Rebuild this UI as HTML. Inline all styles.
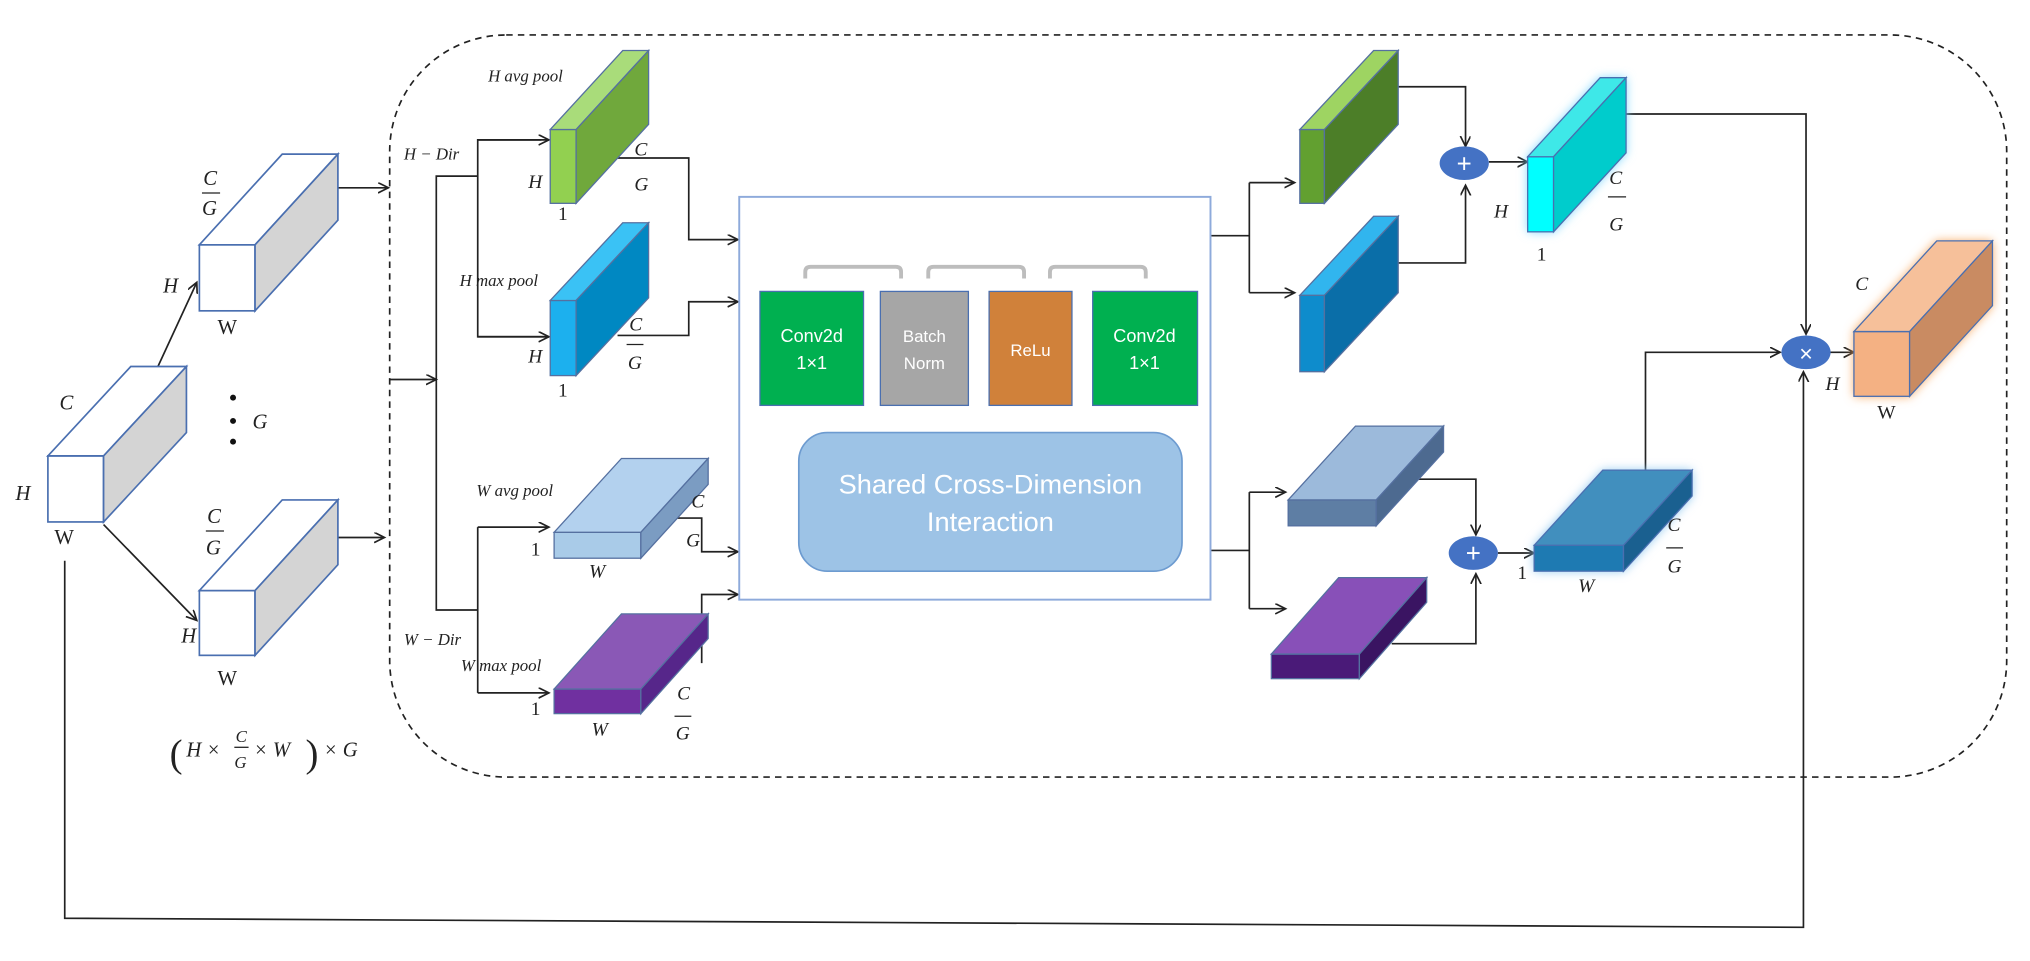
<!DOCTYPE html>
<html><head><meta charset="utf-8"><style>
html,body{margin:0;padding:0;background:#fff;}
svg{display:block;}
text{font-family:"Liberation Serif",serif;font-style:italic;fill:#222;}
.s{font-family:"Liberation Sans",sans-serif;font-style:normal;fill:#fff;}
.n{font-style:normal;}
</style></head><body>
<svg width="2030" height="961" viewBox="0 0 1568 742" preserveAspectRatio="none" xmlns="http://www.w3.org/2000/svg">
<defs>
<marker id="a" markerWidth="10" markerHeight="10" refX="8" refY="4" orient="auto" markerUnits="userSpaceOnUse"><path d="M0,0 L8,4 L0,8" fill="none" stroke="#222" stroke-width="1.3"/></marker>
<filter id="g" x="-30%" y="-30%" width="160%" height="160%"><feGaussianBlur stdDeviation="4"/></filter>
</defs>
<g stroke="#222" stroke-width="1.3" fill="none">
<rect x="301" y="27" width="1249" height="573" rx="90" stroke-dasharray="5,4"/>
<line x1="122" y1="283" x2="152" y2="218" marker-end="url(#a)"/>
<line x1="80" y1="405" x2="152" y2="479" marker-end="url(#a)"/>
<line x1="261" y1="145" x2="300" y2="145" marker-end="url(#a)"/>
<line x1="261" y1="415" x2="297" y2="415" marker-end="url(#a)"/>
<line x1="301" y1="293" x2="337" y2="293" marker-end="url(#a)"/>
<polyline points="369,136 337,136 337,471 369,471"/>
<polyline points="418,108 369,108 369,260 424,260" />
<line x1="369" y1="108" x2="424" y2="108" marker-end="url(#a)"/>
<line x1="369" y1="260" x2="424" y2="260" marker-end="url(#a)"/>
<line x1="369" y1="407" x2="369" y2="535"/>
<line x1="369" y1="407" x2="424" y2="407" marker-end="url(#a)"/>
<line x1="369" y1="535" x2="424" y2="535" marker-end="url(#a)"/>
<polyline points="477,122 532,122 532,185 570,185" marker-end="url(#a)"/>
<polyline points="477,259 532,259 532,233 570,233" marker-end="url(#a)"/>
<polyline points="523,400 542,400 542,426 570,426" marker-end="url(#a)"/>
<polyline points="542,512 542,459 570,459" marker-end="url(#a)"/>
<polyline points="935,182 965,182"/>
<line x1="965" y1="141" x2="965" y2="226"/>
<line x1="965" y1="141" x2="1000" y2="141" marker-end="url(#a)"/>
<line x1="965" y1="226" x2="1000" y2="226" marker-end="url(#a)"/>
<polyline points="1080,67 1132,67 1132,113" marker-end="url(#a)"/>
<polyline points="1080,203 1132,203 1132,143" marker-end="url(#a)"/>
<line x1="1150" y1="125" x2="1180" y2="125" marker-end="url(#a)"/>
<polyline points="935,425 965,425"/>
<line x1="965" y1="380" x2="965" y2="470"/>
<line x1="965" y1="380" x2="993" y2="380" marker-end="url(#a)"/>
<line x1="965" y1="470" x2="993" y2="470" marker-end="url(#a)"/>
<polyline points="1090,370 1140,370 1140,413" marker-end="url(#a)"/>
<polyline points="1075,497 1140,497 1140,443" marker-end="url(#a)"/>
<line x1="1157" y1="427" x2="1185" y2="427" marker-end="url(#a)"/>
<polyline points="1256,88 1395,88 1395,258" marker-end="url(#a)"/>
<polyline points="1271,363 1271,272 1375,272" marker-end="url(#a)"/>
<line x1="1413" y1="272" x2="1432" y2="272" marker-end="url(#a)"/>
<polyline points="50,433 50,709 1393,716 1393,287" marker-end="url(#a)"/>
</g>
<g stroke="#4a6fb0" stroke-width="1.3">
<rect x="37" y="352" width="43" height="51" fill="#fff"/><polygon points="37,352 101,283 144,283 80,352" fill="#fff"/><polygon points="80,352 144,283 144,334 80,403" fill="#d4d4d4"/>
<rect x="154" y="189" width="43" height="51" fill="#fff"/><polygon points="154,189 218,119 261,119 197,189" fill="#fff"/><polygon points="197,189 261,119 261,170 197,240" fill="#d4d4d4"/>
<rect x="154" y="456" width="43" height="50" fill="#fff"/><polygon points="154,456 218,386 261,386 197,456" fill="#fff"/><polygon points="197,456 261,386 261,436 197,506" fill="#d4d4d4"/>
</g>
<g stroke="#5570a0" stroke-width="1">
<rect x="425" y="100" width="20" height="57" fill="#92d050"/><polygon points="425,100 481,39 501,39 445,100" fill="#a9dc7a"/><polygon points="445,100 501,39 501,96 445,157" fill="#70a83c"/>
<rect x="425" y="232" width="20" height="58" fill="#1cb0ee"/><polygon points="425,232 481,172 501,172 445,232" fill="#3ac2f5"/><polygon points="445,232 501,172 501,230 445,290" fill="#0088c2"/>
<rect x="428" y="411" width="67" height="20" fill="#a9cbe8"/><polygon points="428,411 480,354 547,354 495,411" fill="#b3d1ee"/><polygon points="495,411 547,354 547,374 495,431" fill="#7b9cc2"/>
<rect x="428" y="532" width="67" height="19" fill="#7030a0"/><polygon points="428,532 480,474 547,474 495,532" fill="#8a58b6"/><polygon points="495,532 547,474 547,493 495,551" fill="#56268a"/>
<rect x="1004" y="100" width="19" height="57" fill="#62a030"/><polygon points="1004,100 1061,39 1080,39 1023,100" fill="#9ed462"/><polygon points="1023,100 1080,39 1080,96 1023,157" fill="#4c7e28"/>
<rect x="1004" y="228" width="19" height="59" fill="#0e8ccc"/><polygon points="1004,228 1061,167 1080,167 1023,228" fill="#31b5ee"/><polygon points="1023,228 1080,167 1080,226 1023,287" fill="#0a6ea8"/>
<rect x="995" y="386" width="68" height="20" fill="#5e7ea4"/><polygon points="995,386 1047,329 1115,329 1063,386" fill="#9cbadb"/><polygon points="1063,386 1115,329 1115,349 1063,406" fill="#4d6a90"/>
<rect x="982" y="505" width="68" height="19" fill="#4a1a78"/><polygon points="982,505 1034,446 1102,446 1050,505" fill="#8850b8"/><polygon points="1050,505 1102,446 1102,465 1050,524" fill="#3a1462"/>
</g>
<polygon points="1180,121 1236,60 1256,60 1256,118 1200,179 1180,179" fill="#7fd8ff" filter="url(#g)"/>
<polygon points="1185,421 1238,363 1307,363 1307,383 1254,441 1185,441" fill="#8fc8f0" filter="url(#g)"/>
<polygon points="1432,256 1496,186 1539,186 1539,236 1475,306 1432,306" fill="#f7a860" filter="url(#g)"/>
<g stroke="#4a6fb0" stroke-width="1">
<rect x="1180" y="121" width="20" height="58" fill="#00ffff"/><polygon points="1180,121 1236,60 1256,60 1200,121" fill="#3ee8e8"/><polygon points="1200,121 1256,60 1256,118 1200,179" fill="#00cccc"/>
<rect x="1185" y="421" width="69" height="20" fill="#1e7ab2"/><polygon points="1185,421 1238,363 1307,363 1254,421" fill="#418fbe"/><polygon points="1254,421 1307,363 1307,383 1254,441" fill="#1a6090"/>
<rect x="1432" y="256" width="43" height="50" fill="#f4b183"/><polygon points="1432,256 1496,186 1539,186 1475,256" fill="#f6c09a"/><polygon points="1475,256 1539,186 1539,236 1475,306" fill="#c98b62"/>
</g>
<rect x="571" y="152" width="364" height="311" fill="#fff" stroke="#8eaadb" stroke-width="1.5"/>
<g fill="none" stroke="#bdbdbd" stroke-width="3">
<path d="M622,215 v-5 q0,-4 4,-4 h66 q4,0 4,4 v5"/>
<path d="M717,215 v-5 q0,-4 4,-4 h66 q4,0 4,4 v5"/>
<path d="M811,215 v-5 q0,-4 4,-4 h66 q4,0 4,4 v5"/>
</g>
<rect x="587" y="225" width="80" height="88" fill="#00b050" stroke="#4a6fb0"/>
<rect x="680" y="225" width="68" height="88" fill="#a6a6a6" stroke="#4a6fb0"/>
<rect x="764" y="225" width="64" height="88" fill="#d0813a" stroke="#4a6fb0"/>
<rect x="844" y="225" width="81" height="88" fill="#00b050" stroke="#4a6fb0"/>
<text class="s" x="627" y="264" font-size="14" text-anchor="middle">Conv2d</text>
<text class="s" x="627" y="285" font-size="14" text-anchor="middle">1×1</text>
<text class="s" x="714" y="264" font-size="13" text-anchor="middle">Batch</text>
<text class="s" x="714" y="285" font-size="13" text-anchor="middle">Norm</text>
<text class="s" x="796" y="275" font-size="13" text-anchor="middle">ReLu</text>
<text class="s" x="884" y="264" font-size="14" text-anchor="middle">Conv2d</text>
<text class="s" x="884" y="285" font-size="14" text-anchor="middle">1×1</text>
<rect x="617" y="334" width="296" height="107" rx="22" fill="#9dc3e6" stroke="#6d9bd0" stroke-width="1.3"/>
<text class="s" x="765" y="381" font-size="21" text-anchor="middle">Shared Cross-Dimension</text>
<text class="s" x="765" y="410" font-size="21" text-anchor="middle">Interaction</text>
<ellipse cx="1131" cy="126" rx="19" ry="13" fill="#4472c4"/>
<text class="s n" x="1131" y="133" font-size="20" text-anchor="middle">+</text>
<ellipse cx="1138" cy="427" rx="19" ry="13" fill="#4472c4"/>
<text class="s n" x="1138" y="434" font-size="20" text-anchor="middle">+</text>
<ellipse cx="1395" cy="272" rx="19" ry="13" fill="#4472c4"/>
<text class="s n" x="1395" y="279" font-size="18" text-anchor="middle">×</text>
<g font-size="16">
<text x="46" y="316">C</text><text x="12" y="386">H</text><text class="n" x="42" y="420">W</text>
<text x="157" y="143">C</text><line x1="156" y1="149" x2="170" y2="149" stroke="#222"/><text x="156" y="166">G</text>
<text x="126" y="226">H</text><text class="n" x="168" y="258">W</text>
<text x="160" y="404">C</text><line x1="159" y1="410" x2="173" y2="410" stroke="#222"/><text x="159" y="428">G</text>
<text x="140" y="496">H</text><text class="n" x="168" y="529">W</text>
<text x="195" y="331">G</text>
<text class="n" x="131" y="592" font-size="30" font-weight="100">(</text>
<text x="144" y="584">H ×</text><text x="182" y="573" font-size="13">C</text><line x1="181" y1="577" x2="192" y2="577" stroke="#222"/><text x="181" y="593" font-size="13">G</text><text x="196" y="584">× W</text>
<text class="n" x="236" y="592" font-size="30">)</text><text x="250" y="584">× G</text>
</g>
<circle cx="180" cy="307" r="2.3" fill="#111"/><circle cx="180" cy="325" r="2.3" fill="#111"/><circle cx="180" cy="341" r="2.3" fill="#111"/>
<g font-size="13">
<text x="312" y="123">H − Dir</text><text x="312" y="498">W − Dir</text>
<text x="377" y="63">H avg pool</text><text x="355" y="221">H max pool</text>
<text x="368" y="383">W avg pool</text><text x="356" y="518">W max pool</text>
</g>
<g font-size="15">
<text x="490" y="120">C</text><text x="490" y="147">G</text><text x="408" y="145">H</text><text class="n" x="431" y="170">1</text>
<text x="486" y="255">C</text><line x1="484" y1="266" x2="497" y2="266" stroke="#222"/><text x="485" y="285">G</text><text x="408" y="280">H</text><text class="n" x="431" y="306">1</text>
<text x="534" y="392">C</text><text x="530" y="422">G</text><text class="n" x="410" y="429">1</text><text x="455" y="446">W</text>
<text x="523" y="540">C</text><line x1="521" y1="553" x2="534" y2="553" stroke="#222"/><text x="522" y="571">G</text><text class="n" x="410" y="552">1</text><text x="457" y="568">W</text>
<text x="1243" y="142">C</text><line x1="1242" y1="152" x2="1256" y2="152" stroke="#222"/><text x="1243" y="178">G</text><text x="1154" y="168">H</text><text class="n" x="1187" y="201">1</text>
<text x="1288" y="410">C</text><line x1="1287" y1="423" x2="1300" y2="423" stroke="#222"/><text x="1288" y="442">G</text><text class="n" x="1172" y="447">1</text><text x="1219" y="457">W</text>
<text x="1433" y="224">C</text><text x="1410" y="301">H</text><text class="n" x="1450" y="323">W</text>
</g>
</svg>
</body></html>
